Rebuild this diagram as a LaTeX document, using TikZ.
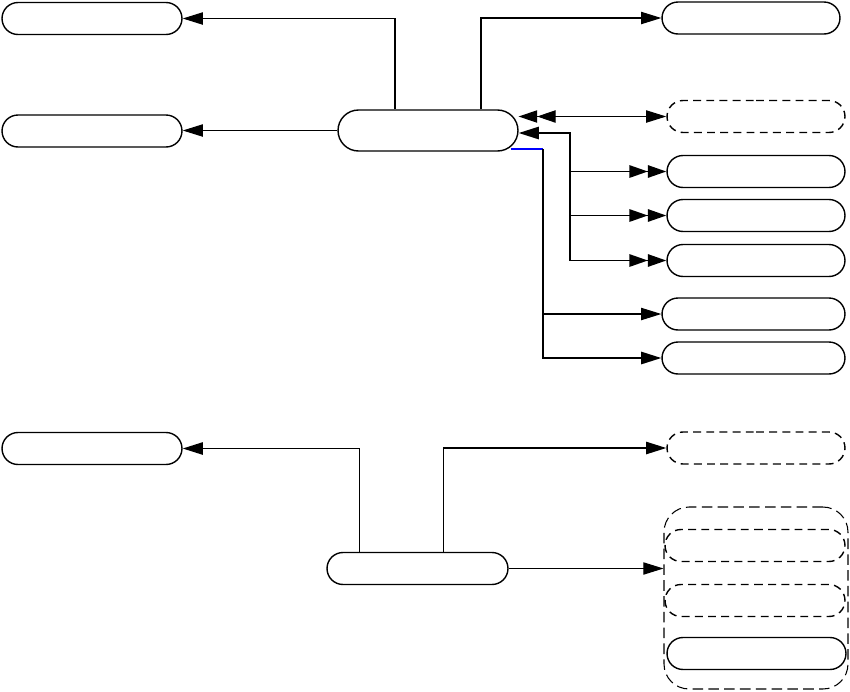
\documentclass[tikz,border=0pt]{standalone}
\usetikzlibrary{shapes.misc, arrows.meta}

\begin{document}
\begin{tikzpicture}[
    x=0.02cm, y=-0.02cm,
    box/.style={rounded rectangle, draw=black, line width=0.8pt, minimum width=3.6cm, minimum height=0.64cm, inner sep=0pt},
    dbox/.style={box, dash pattern=on 4.5pt off 3pt},
    grpbox/.style={rectangle, rounded corners=0.5cm, draw=black, line width=0.6pt, dash pattern=on 6pt off 3pt, minimum width=3.68cm, minimum height=3.64cm, inner sep=0pt},
    arrow/.style={-{Triangle[length=11.5pt, width=7pt]}, line width=0.6pt},
    darrow/.style={-{Triangle[length=10.5pt, width=7pt]Triangle[length=10.5pt, width=7pt]}, line width=1.1pt}
]
\useasboundingbox (0,0) rectangle (850,691);

% Upper block
\node[box, minimum height=0.82cm] (hub) at (428,130.5) {};
\node[box] (l1) at (92,18.5) {};
\node[box] (l2) at (92,131) {};
\node[box, minimum width=3.56cm] (r1) at (751,18) {};
\node[dbox, minimum width=3.56cm] (r2) at (756,116.5) {};
\node[box, minimum width=3.56cm] (r3) at (756,171.5) {};
\node[box, minimum width=3.56cm] (r4) at (756,215.5) {};
\node[box, minimum width=3.56cm] (r5) at (756,260.5) {};
\node[box, minimum width=3.66cm] (r6) at (753.5,314) {};
\node[box, minimum width=3.66cm] (r7) at (753.5,358) {};

% Lower block
\node[box, minimum width=3.62cm] (hub2) at (417.5,568.5) {};
\node[box] (l3) at (92,448.5) {};
\node[dbox, minimum width=3.56cm] (r8) at (756,448) {};
\node[grpbox] (grp) at (756,598) {};
\node[dbox, minimum width=3.6cm] (g1) at (755,545.5) {};
\node[dbox, minimum width=3.6cm] (g2) at (755,600.5) {};
\node[box, minimum width=3.58cm] (g3) at (756.5,653.5) {};

\coordinate (bus) at (570,133);
\coordinate (tap) at (543,149);

% Connections, upper
\draw[arrow] ([xshift=-0.66cm]hub.north) |- (l1.east);
\draw[arrow] ([xshift=1.06cm]hub.north) |- (r1.west);
\draw[arrow] (hub.west) -- (hub.west -| l2.east);
\draw[{Triangle[length=11.5pt, width=7pt]}-{Triangle[length=10.5pt, width=7pt]Triangle[length=10.5pt, width=7pt]}, line width=0.6pt] (r2.west) -- (r2.west -| hub.east);
\draw[arrow, line width=1.1pt] (r5.west -| bus) |- (bus -| hub.east);
\foreach \n in {r3,r4,r5}
    \draw[darrow] (\n.west -| bus) -- (\n.west);
\draw[blue, line width=1.1pt] ([xshift=-0.16cm]tap -| hub.east) -- (tap);
\draw[arrow, line width=1.1pt] (tap) |- (r7.west);
\draw[arrow] (r6.west -| tap) -- (r6.west);

% Connections, lower
\draw[arrow, line width=0.9pt] ([xshift=-1.16cm]hub2.north) |- (l3.east);
\draw[arrow, line width=0.9pt] ([xshift=0.52cm]hub2.north) |- (r8.west);
\draw[arrow] (hub2.east) -- (hub2.east -| grp.west);

\end{tikzpicture}
\end{document}
